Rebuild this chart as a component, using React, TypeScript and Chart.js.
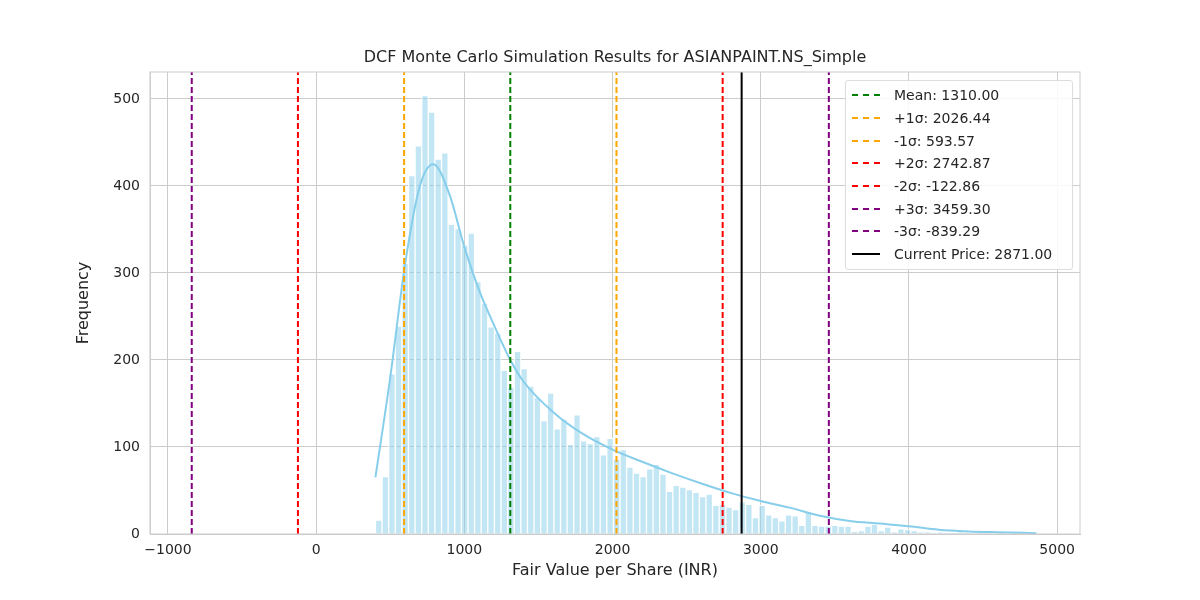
import { Chart, registerables } from 'chart.js';
import { useEffect, useRef } from 'react';

Chart.register(...registerables);

const binStart = 400;
const binWidth = 44.6;
const counts = [
  16, 66, 184, 239, 311, 412, 446, 504, 485, 431, 438, 356, 351, 332, 346, 290, 265, 238, 231, 188,
  169, 210, 190, 170, 157, 130, 162, 121, 132, 103, 137, 107, 104, 112, 91, 110, 86, 97, 77, 70,
  66, 75, 80, 69, 49, 56, 54, 51, 48, 43, 46, 33, 34, 31, 28, 37, 34, 19, 33, 22,
  19, 15, 22, 21, 10, 25, 10, 9, 9, 10, 9, 9, 3, 4, 9, 11, 4, 8, 2, 6,
  5, 4, 2, 2, 1, 2, 1, 1, 2, 1, 0, 1, 1, 0, 1, 0, 1, 0, 0, 1,
];

const kdeX = [400, 500, 600, 700, 790, 900, 1000, 1100, 1200, 1310, 1400, 1600, 1800, 2000, 2200, 2400, 2600, 2800, 3000, 3200, 3400, 3600, 3800, 4000, 4200, 4400, 4600, 4860];
const kdeY = [65, 180, 310, 400, 425, 390, 330, 280, 240, 200, 175, 140, 115, 97, 83, 70, 58, 47, 38, 30, 21, 15, 12, 9, 5, 3, 2, 1];

const refLabels = ['Mean: 1310.00', '+1σ: 2026.44', '-1σ: 593.57', '+2σ: 2742.87', '-2σ: -122.86', '+3σ: 3459.30', '-3σ: -839.29', 'Current Price: 2871.00'];
const refValues = [1310.0, 2026.44, 593.57, 2742.87, -122.86, 3459.3, -839.29, 2871.0];
const refColors = ['green', 'orange', 'orange', 'red', 'red', 'purple', 'purple', 'black'];
const refDashed = [true, true, true, true, true, true, true, false];

const font = '"DejaVu Sans", sans-serif';

export default function App() {
  const chartRef = useRef<HTMLCanvasElement>(null);

  useEffect(() => {
    document.body.style.margin = '0';
    if (!chartRef.current) return;
    const ctx = chartRef.current.getContext('2d');
    if (!ctx) return;

    const refSets: any[] = refValues.map((v, i) => ({
      type: 'line',
      label: refLabels[i],
      data: [{ x: v, y: 0 }, { x: v, y: 531 }],
      borderColor: refColors[i],
      borderWidth: 2,
      borderDash: refDashed[i] ? [6, 3] : [],
      pointRadius: 0,
      order: 0,
    }));

    const chart = new Chart(ctx, {
      type: 'bar',
      data: {
        datasets: [
          {
            type: 'bar',
            label: 'hist',
            data: counts.map((c, i) => ({ x: binStart + binWidth * (i + 0.5), y: c })),
            backgroundColor: 'rgba(135,206,235,0.5)',
            borderColor: '#ffffff',
            borderWidth: 1,
            barPercentage: 1,
            categoryPercentage: 1,
            grouped: false,
            order: 2,
          } as any,
          {
            type: 'line',
            label: 'kde',
            data: kdeX.map((x, i) => ({ x, y: kdeY[i] })),
            borderColor: 'skyblue',
            borderWidth: 2,
            pointRadius: 0,
            cubicInterpolationMode: 'monotone',
            order: 1,
          } as any,
          ...refSets,
        ],
      },
      options: {
        animation: false,
        responsive: false,
        layout: { padding: { top: 72, right: 120, bottom: 16, left: 70 } },
        plugins: {
          legend: { display: false },
          tooltip: { enabled: false },
        },
        scales: {
          x: {
            type: 'linear',
            offset: false,
            min: -1121,
            max: 5154,
            afterBuildTicks: (s: any) => {
              s.ticks = [-1000, 0, 1000, 2000, 3000, 4000, 5000].map((value) => ({ value }));
            },
            afterFit: (s: any) => { s.height = 50; },
            grid: { color: '#cccccc', drawTicks: false, offset: false },
            border: { color: '#cccccc' },
            ticks: { color: '#262626', font: { family: font, size: 14 }, padding: 8, callback: (v: any) => (v < 0 ? '−' + Math.abs(v) : String(v)) },
            title: { display: true, text: 'Fair Value per Share (INR)', color: '#262626', font: { family: font, size: 16 }, padding: { top: 2 } },
          },
          y: {
            min: 0,
            max: 531,
            afterBuildTicks: (s: any) => {
              s.ticks = [0, 100, 200, 300, 400, 500].map((value) => ({ value }));
            },
            afterFit: (s: any) => { s.width = 80; },
            grid: { color: '#cccccc', drawTicks: false },
            border: { color: '#cccccc' },
            ticks: { color: '#262626', font: { family: font, size: 14 }, padding: 10 },
            title: { display: true, text: 'Frequency', color: '#262626', font: { family: font, size: 16 }, padding: { bottom: 8 } },
          },
        },
      },
      plugins: [
        {
          id: 'frame',
          afterDraw: (c: any) => {
            const { left, right, top, bottom } = c.chartArea;
            const g = c.ctx;
            g.save();
            g.strokeStyle = '#cccccc';
            g.lineWidth = 1;
            g.strokeRect(left, top, right - left, bottom - top);
            g.restore();
          },
        },
      ],
    });

    return () => chart.destroy();
  }, []);

  return (
    <div style={{ position: 'relative', width: 1200, height: 600, background: '#fff', fontFamily: font }}>
      <canvas ref={chartRef} width={1200} height={600} />
      <div style={{ position: 'absolute', top: 47, left: 0, width: 1230, textAlign: 'center', fontSize: 16, color: '#262626' }}>
        DCF Monte Carlo Simulation Results for ASIANPAINT.NS_Simple
      </div>
      <div style={{ position: 'absolute', left: 845, top: 80, width: 228, border: '1px solid #dddddd', borderRadius: 3, background: 'rgba(255,255,255,0.85)', padding: '3px 0 3px 6px', boxSizing: 'border-box' }}>
        {refLabels.map((l, i) => (
          <div key={l} style={{ display: 'flex', alignItems: 'center', height: 22.7, fontSize: 14, color: '#262626' }}>
            <span style={{ display: 'inline-block', width: 28, height: 0, borderTop: `2px ${refDashed[i] ? 'dashed' : 'solid'} ${refColors[i]}`, marginRight: 14 }} />
            {l}
          </div>
        ))}
      </div>
    </div>
  );
}
